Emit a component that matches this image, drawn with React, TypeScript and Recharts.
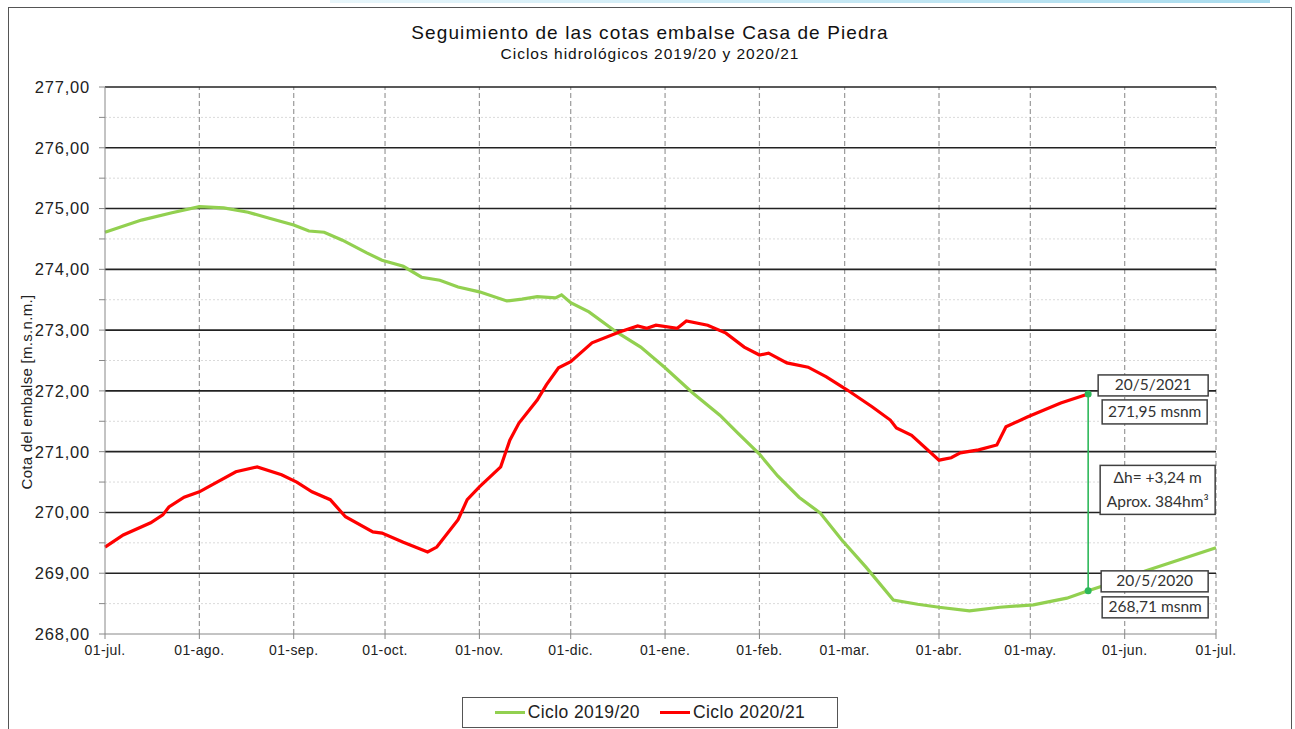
import {
  LineChart,
  Line,
  XAxis,
  YAxis,
  ReferenceLine,
  ReferenceDot,
  Legend,
} from "recharts";

// días desde el 01-jul. de cada ciclo
const MONTH_DAYS = [0, 31, 62, 92, 123, 153, 184, 215, 243, 274, 304, 335, 365];
const MONTH_LABELS = [
  "01-jul.", "01-ago.", "01-sep.", "01-oct.", "01-nov.", "01-dic.", "01-ene.",
  "01-feb.", "01-mar.", "01-abr.", "01-may.", "01-jun.", "01-jul.",
];

const Y_MAJOR = [268, 269, 270, 271, 272, 273, 274, 275, 276, 277];
const Y_MINOR = [268.5, 269.5, 270.5, 271.5, 272.5, 273.5, 274.5, 275.5, 276.5];

const CICLO_1920_DAYS = [
  0, 12, 22, 31, 39, 47, 54, 62, 67, 72, 78, 86, 91, 98, 104, 110, 116, 123, 132,
  137, 142, 148, 150, 153, 159, 168, 176, 184, 193, 202, 208, 215, 221, 228, 235,
  242, 250, 259, 267, 274, 284, 294, 305, 316, 323, 332, 342, 353, 365,
];
const CICLO_1920 = [
  274.61, 274.81, 274.93, 275.03, 275.01, 274.94, 274.84, 274.73, 274.63, 274.61,
  274.48, 274.27, 274.15, 274.05, 273.87, 273.82, 273.71, 273.63, 273.48, 273.51,
  273.55, 273.53, 273.58, 273.45, 273.3, 272.97, 272.72, 272.38, 271.97, 271.6,
  271.3, 270.96, 270.6, 270.25, 269.99, 269.55, 269.1, 268.56, 268.49, 268.44,
  268.38, 268.44, 268.48, 268.59, 268.71, 268.86, 269.04, 269.22, 269.42,
];

const CICLO_2021_DAYS = [
  0, 6, 15, 19, 21, 26, 31, 35, 43, 50, 58, 63, 68, 74, 79, 88, 91, 98, 106, 109,
  116, 119, 123, 130, 133, 136, 142, 145, 149, 153, 160, 169, 175, 178, 181, 188,
  191, 198, 204, 210, 215, 218, 224, 231, 237, 244, 252, 258, 260, 265, 274, 278,
  281, 287, 293, 296, 303, 314, 323,
];
const CICLO_2021 = [
  269.43, 269.63, 269.83, 269.96, 270.09, 270.25, 270.34, 270.45, 270.67, 270.75,
  270.62, 270.5, 270.34, 270.21, 269.93, 269.68, 269.66, 269.51, 269.35, 269.43,
  269.88, 270.21, 270.42, 270.75, 271.19, 271.47, 271.85, 272.1, 272.38, 272.48,
  272.79, 272.97, 273.07, 273.03, 273.08, 273.03, 273.15, 273.08, 272.95, 272.72,
  272.59, 272.62, 272.46, 272.39, 272.23, 272.01, 271.74, 271.52, 271.39, 271.27,
  270.86, 270.9, 270.98, 271.03, 271.11, 271.41, 271.57, 271.8, 271.95,
];

const MARK_DAY = 323;
const MARK_2020 = 268.71;
const MARK_2021 = 271.95;

const data1920 = CICLO_1920_DAYS.map((d, i) => ({ day: d, cota: CICLO_1920[i] }));
const data2021 = CICLO_2021_DAYS.map((d, i) => ({ day: d, cota: CICLO_2021[i] }));

const GREEN = "#92D050";
const RED = "#FF0000";
const MARK_GREEN = "#2DB85A";
const FONT = "'Liberation Sans', Arial, sans-serif";
const BOX_FONT = "Lato, 'Open Sans', sans-serif";

const fmt = (v: number) => v.toFixed(2).replace(".", ",");

function Box({ x, y, w, h, lines }: { x: number; y: number; w: number; h: number; lines: string[] }) {
  const step = h / lines.length;
  return (
    <g>
      <rect x={x} y={y} width={w} height={h} fill="#fff" stroke="#404040" strokeWidth={1.5} />
      {lines.map((t, i) => (
        <text
          key={i}
          x={x + w / 2}
          y={y + step * i + step / 2 + 5}
          textAnchor="middle"
          fontFamily={BOX_FONT}
          fontSize={15.5}
          fill="#333"
        >
          {t}
        </text>
      ))}
    </g>
  );
}

function label2021(props: any) {
  const vb = props.viewBox;
  const cx = vb.x + vb.width / 2;
  const cy = vb.y + vb.height / 2;
  return (
    <g>
      <Box x={cx + 10} y={cy - 19} w={110} h={21} lines={["20/5/2021"]} />
      <Box x={cx + 14} y={cy + 6} w={105} h={24} lines={[fmt(MARK_2021) + " msnm"]} />
    </g>
  );
}

function label2020(props: any) {
  const vb = props.viewBox;
  const cx = vb.x + vb.width / 2;
  const cy = vb.y + vb.height / 2;
  return (
    <g>
      <Box x={cx + 13} y={cy - 20} w={107} h={21} lines={["20/5/2020"]} />
      <Box x={cx + 14} y={cy + 6} w={106} h={21} lines={[fmt(MARK_2020) + " msnm"]} />
    </g>
  );
}

function labelDelta(props: any) {
  const vb = props.viewBox;
  const cx = vb.x + vb.width / 2;
  const cy = vb.y + vb.height / 2;
  const dh = (MARK_2021 - MARK_2020).toFixed(2).replace(".", ",");
  return (
    <Box
      x={cx + 12}
      y={cy - 27}
      w={115}
      h={49}
      lines={[`Δh= +${dh} m`, "Aprox. 384hm³"]}
    />
  );
}

function yLabel() {
  return (
    <text
      x={32}
      y={392}
      transform="rotate(-90 32 392)"
      textAnchor="middle"
      fontFamily={FONT}
      fontSize={15}
      letterSpacing={0.3}
      fill="#222"
    >
      Cota del embalse [m.s.n.m.]
    </text>
  );
}

function LegendBox() {
  const items = [
    { name: "Ciclo 2019/20", color: GREEN },
    { name: "Ciclo 2020/21", color: RED },
  ];
  return (
    <div
      style={{
        width: 374,
        height: 29,
        border: "1.5px solid #555",
        background: "#fff",
        display: "flex",
        alignItems: "center",
        justifyContent: "center",
        gap: 20,
        fontFamily: FONT,
        fontSize: 17.5,
        color: "#222",
        letterSpacing: 0.4,
      }}
    >
      {items.map((it) => (
        <div key={it.name} style={{ display: "flex", alignItems: "center" }}>
          <span style={{ display: "inline-block", width: 30, height: 3, background: it.color, marginRight: 3 }} />
          {it.name}
        </div>
      ))}
    </div>
  );
}

export default function App() {
  return (
    <div style={{ position: "absolute", left: 0, top: 0, width: 1295, height: 729, background: "#fff", overflow: "hidden" }}>
      <div
        style={{
          position: "absolute",
          left: 330,
          top: 0,
          width: 940,
          height: 3,
          background: "linear-gradient(90deg, #e8f6fb, #a9dcee)",
        }}
      />
      <div
        style={{
          position: "absolute",
          left: 8,
          top: 7,
          width: 1284,
          height: 740,
          border: "1.5px solid #555",
          boxSizing: "border-box",
        }}
      />
      <div
        style={{
          position: "absolute",
          left: 0,
          top: 22,
          width: 1300,
          textAlign: "center",
          fontFamily: FONT,
          fontSize: 19,
          letterSpacing: 1.1,
          color: "#111",
        }}
      >
        Seguimiento de las cotas embalse Casa de Piedra
      </div>
      <div
        style={{
          position: "absolute",
          left: 0,
          top: 45,
          width: 1300,
          textAlign: "center",
          fontFamily: FONT,
          fontSize: 15.5,
          letterSpacing: 1.0,
          color: "#111",
        }}
      >
        Ciclos hidrológicos 2019/20 y 2020/21
      </div>
      <div style={{ position: "absolute", left: 0, top: 0 }}>
        <LineChart
          width={1295}
          height={729}
          margin={{ top: 87, right: 4, bottom: 65, left: 15 }}
          style={{ fontFamily: FONT }}
        >
          <XAxis
            type="number"
            dataKey="day"
            domain={[0, 365]}
            ticks={MONTH_DAYS}
            tickFormatter={(v: number) => MONTH_LABELS[MONTH_DAYS.indexOf(v)] ?? ""}
            allowDuplicatedCategory={false}
            stroke="#888"
            tick={{ fill: "#222", fontSize: 14, letterSpacing: 0.4 }}
            tickSize={5}
            tickMargin={6}
            height={30}
            interval={0}
          />
          <YAxis
            yAxisId="l"
            domain={[268, 277]}
            ticks={[...Y_MAJOR, ...Y_MINOR].sort((a, b) => a - b)}
            tickFormatter={(v: number) => (Number.isInteger(v) ? fmt(v) : "")}
            stroke="#888"
            tick={{ fill: "#222", fontSize: 16.5, letterSpacing: 0.8 }}
            tickSize={6}
            tickMargin={9}
            width={90}
            interval={0}
            label={yLabel}
          />
          <YAxis
            yAxisId="r"
            orientation="right"
            domain={[268, 277]}
            ticks={[...Y_MAJOR, ...Y_MINOR].sort((a, b) => a - b)}
            tickFormatter={(v: number) => (Number.isInteger(v) ? fmt(v) : "")}
            axisLine={false}
            tickLine={{ stroke: "#888" }}
            tick={{ fill: "#222", fontSize: 16.5, letterSpacing: 0.8 }}
            tickSize={5}
            tickMargin={12}
            width={75}
            interval={0}
          />
          {Y_MINOR.map((v) => (
            <ReferenceLine key={"mi" + v} yAxisId="l" y={v} stroke="#dadada" strokeDasharray="2 2" />
          ))}
          {MONTH_DAYS.slice(1).map((d) => (
            <ReferenceLine key={"m" + d} yAxisId="l" x={d} stroke="#9a9a9a" strokeDasharray="5 3" strokeWidth={1.2} />
          ))}
          {Y_MAJOR.slice(1).map((v) => (
            <ReferenceLine key={"ma" + v} yAxisId="l" y={v} stroke="#222" strokeWidth={1.6} />
          ))}
          <Line
            yAxisId="l"
            data={data1920}
            dataKey="cota"
            name="Ciclo 2019/20"
            stroke={GREEN}
            strokeWidth={3.2}
            dot={false}
            type="linear"
            isAnimationActive={false}
          />
          <Line
            yAxisId="l"
            data={data2021}
            dataKey="cota"
            name="Ciclo 2020/21"
            stroke={RED}
            strokeWidth={3.2}
            dot={false}
            type="linear"
            isAnimationActive={false}
          />
          <ReferenceLine
            yAxisId="l"
            segment={[
              { x: MARK_DAY, y: MARK_2020 },
              { x: MARK_DAY, y: MARK_2021 },
            ]}
            stroke={MARK_GREEN}
            strokeWidth={1.6}
            label={labelDelta}
          />
          <ReferenceDot yAxisId="l" x={MARK_DAY} y={MARK_2021} r={3.5} fill={MARK_GREEN} stroke="none" label={label2021} />
          <ReferenceDot yAxisId="l" x={MARK_DAY} y={MARK_2020} r={3.5} fill={MARK_GREEN} stroke="none" label={label2020} />
          <Legend
            verticalAlign="middle"
            align="center"
            layout="horizontal"
            wrapperStyle={{ top: 697, left: 462, width: 376 }}
            content={() => <LegendBox />}
          />
        </LineChart>
      </div>
    </div>
  );
}
